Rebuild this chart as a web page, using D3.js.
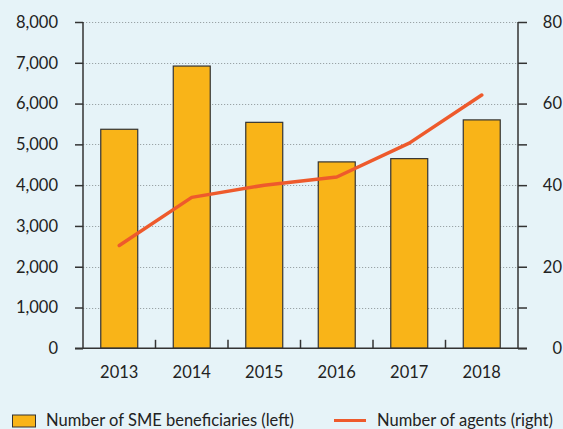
<!DOCTYPE html>
<html>
<head>
<meta charset="utf-8">
<script src="https://cdn.jsdelivr.net/npm/d3@7"></script>
<style>
html,body{margin:0;padding:0;background:#e6f3f8;}
svg{display:block;font-family:Lato,"Open Sans",sans-serif;}
</style>
</head>
<body>
<svg id="chart" width="563" height="429"></svg>
<script>
const years = ["2013","2014","2015","2016","2017","2018"];
const smeBeneficiaries = [5370, 6920, 5540, 4570, 4650, 5600];
const agents = [25.2, 37.0, 40.0, 42.0, 50.3, 62.1];
const leftTicks = [0,1000,2000,3000,4000,5000,6000,7000,8000];
const rightTicks = [0,10,20,30,40,50,60,70,80];
const rightLabels = [0,20,40,60,80];
const legendLabels = ["Number of SME beneficiaries (left)", "Number of agents (right)"];

const svg = d3.select("#chart");
const L = 83, R = 518, T = 22, B = 348.3;
const ink = "#333";
const barFill = "#f9b418";
const lineColor = "#ee5a2c";

const x = d3.scaleBand().domain(years).range([L, R]).paddingInner(0.49).paddingOuter(0.245);
const xb = d3.scaleBand().domain(years).range([L, R]);
const yL = d3.scaleLinear().domain([0, 8000]).range([B, T]);
const yR = d3.scaleLinear().domain([0, 80]).range([B, T]);

// gridlines
svg.append("g").selectAll("line").data(leftTicks.filter(d => d > 0)).join("line")
  .attr("x1", L).attr("x2", R)
  .attr("y1", d => Math.round(yL(d)) + 0.5).attr("y2", d => Math.round(yL(d)) + 0.5)
  .attr("stroke", "#9aa3a6").attr("stroke-width", 1).attr("stroke-dasharray", "1.2,1.8");

// bars
svg.append("g").selectAll("rect").data(years).join("rect")
  .attr("x", d => x(d)).attr("width", x.bandwidth())
  .attr("y", (d, i) => yL(smeBeneficiaries[i]))
  .attr("height", (d, i) => B - yL(smeBeneficiaries[i]))
  .attr("fill", barFill).attr("stroke", ink).attr("stroke-width", 1.2);

// line
const line = d3.line().x((d, i) => xb(years[i]) + xb.bandwidth() / 2).y(d => yR(d));
svg.append("path").datum(agents).attr("d", line)
  .attr("fill", "none").attr("stroke", lineColor).attr("stroke-width", 3.5)
  .attr("stroke-linecap", "round").attr("stroke-linejoin", "round");

// left axis
const gL = svg.append("g").attr("transform", `translate(${L},0)`)
  .call(d3.axisLeft(yL).tickValues(leftTicks).tickSize(8).tickPadding(17).tickFormat(d3.format(",")));
// right axis
const gR = svg.append("g").attr("transform", `translate(${R},0)`)
  .call(d3.axisRight(yR).tickValues(rightTicks).tickSize(9).tickPadding(16)
    .tickFormat(d => rightLabels.includes(d) ? d : ""));
// bottom axis
const gB = svg.append("g").attr("transform", `translate(0,${B})`)
  .call(d3.axisBottom(xb).tickSize(0).tickPadding(18));

[gL, gR, gB].forEach(g => {
  g.select(".domain").remove();
  g.selectAll("line").attr("stroke", ink).attr("stroke-width", 1.5);
  g.selectAll("text").attr("fill", "#222").style("font-size", "16.5px").style("font-family", "Lato, 'Open Sans', sans-serif");
});
gR.selectAll("text").attr("text-anchor", "end").attr("x", 44);
gB.selectAll("text").attr("dy", "0.71em");

// axis lines
svg.append("line").attr("x1", L).attr("x2", L).attr("y1", T).attr("y2", B).attr("stroke", ink).attr("stroke-width", 1.5);
svg.append("line").attr("x1", R).attr("x2", R).attr("y1", T).attr("y2", B).attr("stroke", ink).attr("stroke-width", 1.5);
svg.append("line").attr("x1", 75).attr("x2", 527).attr("y1", B).attr("y2", B).attr("stroke", ink).attr("stroke-width", 1.5);
// category boundary ticks (inside)
svg.append("g").selectAll("line").data(years.slice(1)).join("line")
  .attr("x1", d => xb(d)).attr("x2", d => xb(d))
  .attr("y1", B - 8.5).attr("y2", B)
  .attr("stroke", ink).attr("stroke-width", 1.5);

// legend
const lg = svg.append("g").style("font-family", "Lato, 'Open Sans', sans-serif").style("font-size", "16.5px");
lg.append("rect").attr("x", 12.5).attr("y", 415).attr("width", 23).attr("height", 12)
  .attr("fill", barFill).attr("stroke", ink).attr("stroke-width", 1);
lg.append("text").attr("x", 46).attr("y", 426).attr("fill", "#222").text(legendLabels[0]);
lg.append("line").attr("x1", 334).attr("x2", 366).attr("y1", 420.5).attr("y2", 420.5)
  .attr("stroke", lineColor).attr("stroke-width", 3);
lg.append("text").attr("x", 377).attr("y", 426).attr("fill", "#222").text(legendLabels[1]);
</script>
</body>
</html>
